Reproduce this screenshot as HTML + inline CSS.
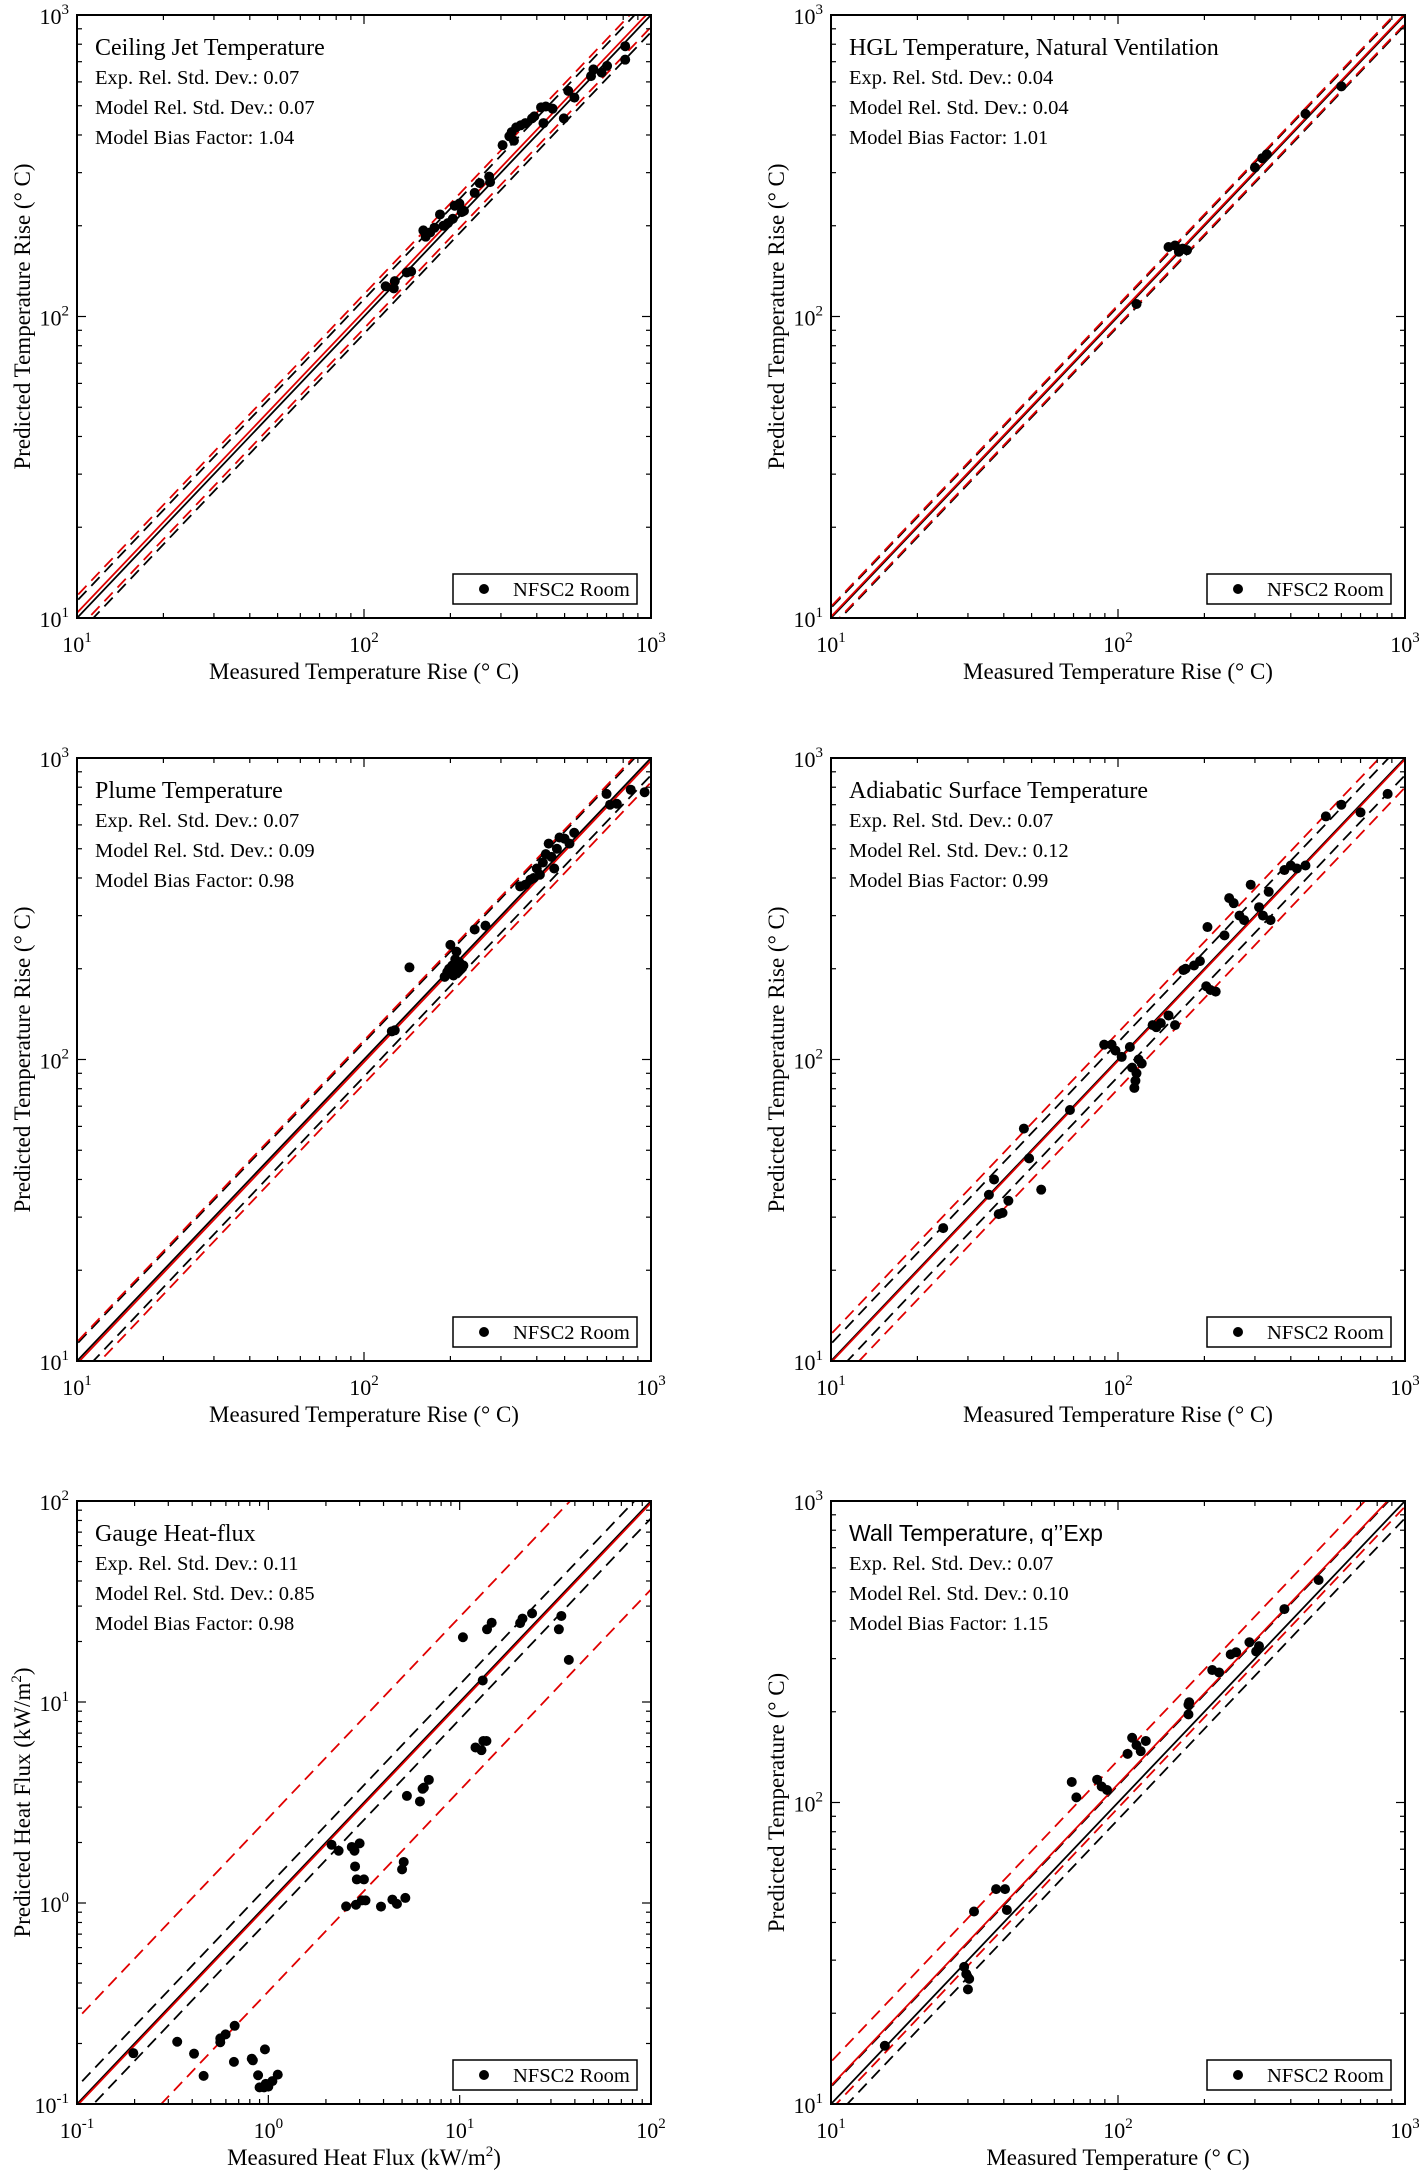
<!DOCTYPE html>
<html><head><meta charset="utf-8"><style>
html,body{margin:0;padding:0;background:#fff;overflow:hidden;}
svg{display:block;}
</style></head><body>
<svg id="fig" xmlns="http://www.w3.org/2000/svg" width="1419" height="2178" viewBox="0 0 1419 2178"></svg>
<script>
// ---- data arrays ----
const cjX=[119,127,128,141,146,161,164,170,176,184,189,196,204,207,215,219,223,243,253,273,275,304,321,327,333,339,352,365,385,392,414,422,430,454,497,515,541,618,630,673,703,813,813];
const cjY=[126,124,131,140,141,193,184,190,197,218,200,204,211,233,237,222,224,257,277,291,279,370,396,409,383,424,431,438,454,461,494,438,497,489,454,560,532,627,660,644,678,788,711];
const hglX=[116,150,158,163,168,174,300,318,330,450,600];
const hglY=[110,170,172,164,168,166,312,335,345,470,580];
const plX=[125,128,144,191,195,198,200,203,205,208,210,212,215,218,222,243,265,350,365,380,390,400,410,420,430,440,450,460,470,480,500,520,540,700,720,760,850,950];
const plY=[124,125,202,188,195,200,240,205,190,215,228,195,210,200,205,270,278,375,380,395,400,430,410,450,480,520,470,430,500,545,540,520,565,760,700,705,785,770];
const adX=[24.6,35.5,37,38.4,39.6,41.5,47,49,54,68,89.5,95,98,103,110,112,114,115,116,118,121,132,136,141,150,158,169,172,184,193,203,210,219,205,235,244,253,265,275,290,310,320,335,340,380,400,420,450,530,600,700,870];
const adY=[27.6,35.6,40,30.7,31,34,59,47,37,68,112,112,107,102,110,94,80.5,85,90,100,97,130,128,132,140,130,198,200,205,212,175,170,168,275,258,343,330,300,290,380,320,300,360,290,425,440,430,440,640,700,660,760];
const hfX=[0.197,0.334,0.409,0.459,0.561,0.561,0.598,0.661,0.667,0.819,0.83,0.884,0.9,0.95,0.97,1.0,1.05,1.12,0.96,2.14,2.33,2.73,2.82,3.0,2.84,2.9,3.16,2.55,2.87,3.08,3.22,3.88,4.45,4.7,5.2,5.0,5.1,5.3,6.2,6.4,6.5,6.9,10.4,12.1,13.0,13.3,13.8,13.2,13.9,14.7,20.7,21.3,23.9,33,34,37.2];
const hfY=[0.179,0.204,0.178,0.138,0.212,0.203,0.222,0.162,0.245,0.168,0.165,0.139,0.121,0.121,0.126,0.122,0.13,0.14,0.187,1.95,1.82,1.9,1.82,1.98,1.52,1.31,1.31,0.962,0.98,1.03,1.03,0.96,1.04,0.99,1.06,1.47,1.6,3.41,3.2,3.7,3.75,4.1,21,5.94,5.76,6.4,6.4,12.8,23,24.8,24.7,26,27.6,23,26.8,16.2];
const wtX=[15.4,29.1,29.6,30,30.3,31.5,37.6,40.4,41,69,71.6,84.6,87.7,91.6,108,112,116,120,125,176,177,176,213,225,247,258,287,303,310,380,500];
const wtY=[15.6,28.5,27,24,26,43.5,51.6,51.6,44,117,104,119,113,110,145,164,155,148,160,211,215,196,275,270,310,315,340,317,330,438,547];
const statsCJ=["0.07","0.07","1.04"];
const statsHGL=["0.04","0.04","1.01"];
const statsPL=["0.07","0.09","0.98"];
const statsAD=["0.07","0.12","0.99"];
const statsHF=["0.11","0.85","0.98"];
const statsWT=["0.07","0.10","1.15"];

const NS="http://www.w3.org/2000/svg";
const fig=document.getElementById('fig');
function mk(tag,attrs,parent){const e=document.createElementNS(NS,tag);for(const k in attrs)e.setAttribute(k,attrs[k]);(parent||fig).appendChild(e);return e;}

const W=574,H=603;
const panels=[
 {key:'ceiling-jet',x0:77,y0:15,lo:1,hi:3,X:cjX,Y:cjY,st:statsCJ,title:'Ceiling Jet Temperature',sans:false,yl:'Predicted Temperature Rise (° C)',xl:'Measured Temperature Rise (° C)'},
 {key:'hgl',x0:831,y0:15,lo:1,hi:3,X:hglX,Y:hglY,st:statsHGL,title:'HGL Temperature, Natural Ventilation',sans:false,yl:'Predicted Temperature Rise (° C)',xl:'Measured Temperature Rise (° C)'},
 {key:'plume',x0:77,y0:758,lo:1,hi:3,X:plX,Y:plY,st:statsPL,title:'Plume Temperature',sans:false,yl:'Predicted Temperature Rise (° C)',xl:'Measured Temperature Rise (° C)'},
 {key:'adiabatic',x0:831,y0:758,lo:1,hi:3,X:adX,Y:adY,st:statsAD,title:'Adiabatic Surface Temperature',sans:false,yl:'Predicted Temperature Rise (° C)',xl:'Measured Temperature Rise (° C)'},
 {key:'heat-flux',x0:77,y0:1501,lo:-1,hi:2,X:hfX,Y:hfY,st:statsHF,title:'Gauge Heat-flux',sans:false,yl:'Predicted Heat Flux (kW/m',xl:'Measured Heat Flux (kW/m',sq:true},
 {key:'wall',x0:831,y0:1501,lo:1,hi:3,X:wtX,Y:wtY,st:statsWT,title:'Wall Temperature, q\u2019\u2019Exp',sans:true,yl:'Predicted Temperature (° C)',xl:'Measured Temperature (° C)'}
];
const serif='"Liberation Serif", serif';

function powLabel(g,x,y,exp,anchor){
  const t=mk('text',{x:x,y:y,'font-family':serif,'font-size':22,'text-anchor':anchor,fill:'#000'},g);
  t.appendChild(document.createTextNode('10'));
  const s=mk('tspan',{dy:-10,'font-size':15},t);
  s.textContent=String(exp);
  return t;
}

panels.forEach((p,i)=>{
  const g=mk('g',{});
  
  
  const sx=v=>p.x0+(Math.log10(v)-p.lo)/(p.hi-p.lo)*W;
  const sy=v=>p.y0+H-(Math.log10(v)-p.lo)/(p.hi-p.lo)*H;
  const cid='clip'+i;
  const cp=mk('clipPath',{id:cid},g);
  mk('rect',{x:p.x0,y:p.y0,width:W,height:H},cp);
  const lines=mk('g',{'clip-path':'url(#'+cid+')'},g);
  const sE=parseFloat(p.st[0]),sM=parseFloat(p.st[1]),d=parseFloat(p.st[2]);
  const defs=[
    {f:1,c:'#000',dash:null,n:'identity-line'},
    {f:1+2*sE,c:'#000',dash:'12 7',n:'exp-upper-bound'},
    {f:1/(1+2*sE),c:'#000',dash:'12 7',n:'exp-lower-bound'},
    {f:d,c:'#e00000',dash:null,n:'model-bias-line'},
    {f:d*(1+2*sM),c:'#e00000',dash:'12 7',n:'model-upper-bound'},
    {f:d/(1+2*sM),c:'#e00000',dash:'12 7',n:'model-lower-bound'}
  ];
  const a=Math.pow(10,p.lo-1),b=Math.pow(10,p.hi+1);
  defs.forEach(L=>{
    const attrs={x1:sx(a),y1:sy(a*L.f),x2:sx(b),y2:sy(b*L.f),stroke:L.c,'stroke-width':1.8};
    if(L.dash)attrs['stroke-dasharray']=L.dash;
    const ln=mk('line',attrs,lines);
    
    
  });
  for(let e=p.lo;e<=p.hi;e++){
    for(let k=1;k<=9;k++){
      if(e===p.hi&&k>1)break;
      const v=k*Math.pow(10,e);
      const len=k===1?9:5;
      const X=sx(v),Y=sy(v);
      mk('line',{x1:X,y1:p.y0+H,x2:X,y2:p.y0+H-len,stroke:'#000','stroke-width':1.2},g);
      mk('line',{x1:X,y1:p.y0,x2:X,y2:p.y0+len,stroke:'#000','stroke-width':1.2},g);
      mk('line',{x1:p.x0,y1:Y,x2:p.x0+len,y2:Y,stroke:'#000','stroke-width':1.2},g);
      mk('line',{x1:p.x0+W,y1:Y,x2:p.x0+W-len,y2:Y,stroke:'#000','stroke-width':1.2},g);
    }
    const xt=powLabel(g,sx(Math.pow(10,e)),p.y0+H+34,e,'middle');
    
    
    const yt=powLabel(g,p.x0-8,sy(Math.pow(10,e))+9,e,'end');
    
    
  }
  p.X.forEach((xv,j)=>{
    const c=mk('circle',{cx:sx(xv),cy:sy(p.Y[j]),r:5,fill:'#000'},g);
    
    
  });
  const fr=mk('rect',{x:p.x0,y:p.y0,width:W,height:H,fill:'none',stroke:'#000','stroke-width':2},g);
  
  
  const tt=mk('text',{x:p.x0+18,y:p.y0+40,'font-family':p.sans?'"Liberation Sans", sans-serif':serif,'font-size':p.sans?23:24,fill:'#000'},g);
  tt.textContent=p.title;
  
  
  const lbl=['Exp. Rel. Std. Dev.: ','Model Rel. Std. Dev.: ','Model Bias Factor: '];
  const ys=[69,99,129];
  lbl.forEach((l,j)=>{
    const s=mk('text',{x:p.x0+18,y:p.y0+ys[j],'font-family':serif,'font-size':20.5,fill:'#000'},g);
    s.textContent=l+p.st[j];
    
    
  });
  const lg=mk('g',{},g);
  
  
  const lx=p.x0+W-14-184,ly=p.y0+H-14-30;
  mk('rect',{x:lx,y:ly,width:184,height:30,fill:'#fff',stroke:'#000','stroke-width':1.5},lg);
  mk('circle',{cx:lx+31,cy:ly+15,r:5,fill:'#000'},lg);
  const lt=mk('text',{x:lx+60,y:ly+22,'font-family':serif,'font-size':20.5,fill:'#000'},lg);
  lt.textContent='NFSC2 Room';
  
  
  const xl=mk('text',{x:p.x0+W/2,y:p.y0+H+61,'font-family':serif,'font-size':23,'text-anchor':'middle',fill:'#000'},g);
  
  
  const cy=p.y0+H/2,cx=p.x0-47;
  const yl=mk('text',{x:cx,y:cy,'font-family':serif,'font-size':23,'text-anchor':'middle',fill:'#000',transform:'rotate(-90 '+cx+' '+cy+')'},g);
  
  
  if(p.sq){
    [xl,yl].forEach((t,j)=>{
      t.appendChild(document.createTextNode(j===0?p.xl:p.yl));
      const s=mk('tspan',{dy:-9,'font-size':15},t);s.textContent='2';
      const s2=mk('tspan',{dy:9},t);s2.textContent=')';
    });
  } else {
    xl.textContent=p.xl;
    yl.textContent=p.yl;
  }
});
</script>
</body></html>
